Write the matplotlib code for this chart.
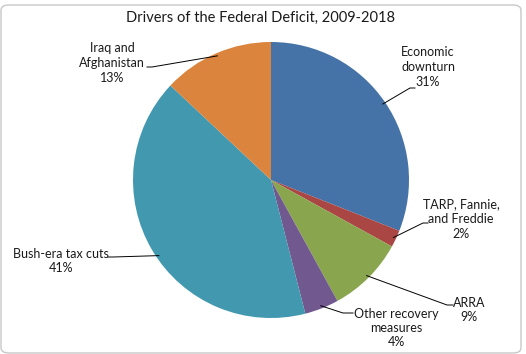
import numpy as np
import matplotlib
matplotlib.use("Agg")
import matplotlib.pyplot as plt
from matplotlib.patches import FancyBboxPatch

plt.rcParams['font.family'] = ['Lato', 'DejaVu Sans']

labels = ['Economic\ndownturn', 'TARP, Fannie,\nand Freddie', 'ARRA',
          'Other recovery\nmeasures', 'Bush-era tax cuts', 'Iraq and\nAfghanistan']
shares = [31, 2, 9, 4, 41, 13]
colors = ['#4572A7', '#AA4643', '#89A54E', '#71588F', '#4198AF', '#DB843D']

# layout in pixels (label centre, elbow, end of leader)
cx, cy, r = 271, 180, 138
label_pos = [(428, 67), (461, 219), (469, 310), (396, 328), (61, 261), (112, 63)]
elbow = [(410, 88), (423, 223), (447, 305), (343, 313), (113, 257), (152, 67)]
tail = [(415, 88), (428, 223), (453, 305), (353, 313), (108, 257), (147, 67)]
anchor = [0.5, 0.5, 0.5, 0.5, 0.523, 0.5]  # where along the wedge the leader starts


def px(p):
    return ((p[0] - cx) / r, (cy - p[1]) / r)


fig = plt.figure(figsize=(5.26, 3.54), dpi=100)
ax = fig.add_axes([0, 0, 1, 1])
wedges, _ = ax.pie(shares, colors=colors, startangle=90, counterclock=False,
                   radius=1, wedgeprops=dict(linewidth=0))
ax.set_xlim(-cx / r, (526 - cx) / r)
ax.set_ylim((cy - 354) / r, cy / r)
ax.axis('off')

for w, lab, s, lp, el, tl, f in zip(wedges, labels, shares, label_pos, elbow, tail, anchor):
    ang = np.deg2rad(w.theta1 + f * (w.theta2 - w.theta1))
    start = (0.98 * np.cos(ang), 0.98 * np.sin(ang))
    e = px(el)
    t = px(tl)
    ax.plot([start[0], e[0], t[0]], [start[1], e[1], t[1]], color='black', lw=0.7)
    x, y = px(lp)
    ax.text(x, y, f'{lab}\n{s}%', ha='center', va='center', fontsize=9,
            linespacing=1.25, color='#1a1a1a')

fig.text(261 / 526, 1 - 18 / 354, 'Drivers of the Federal Deficit, 2009-2018',
         ha='center', va='center', fontsize=10.5, color='#1a1a1a')

border = FancyBboxPatch((1 / 526, 1 / 354), 520 / 526, 348 / 354,
                        boxstyle='round,pad=0,rounding_size=0.015',
                        transform=fig.transFigure, fill=False,
                        edgecolor='#c8c8c8', lw=1)
fig.patches.append(border)

fig.savefig('out.png', dpi=100)
